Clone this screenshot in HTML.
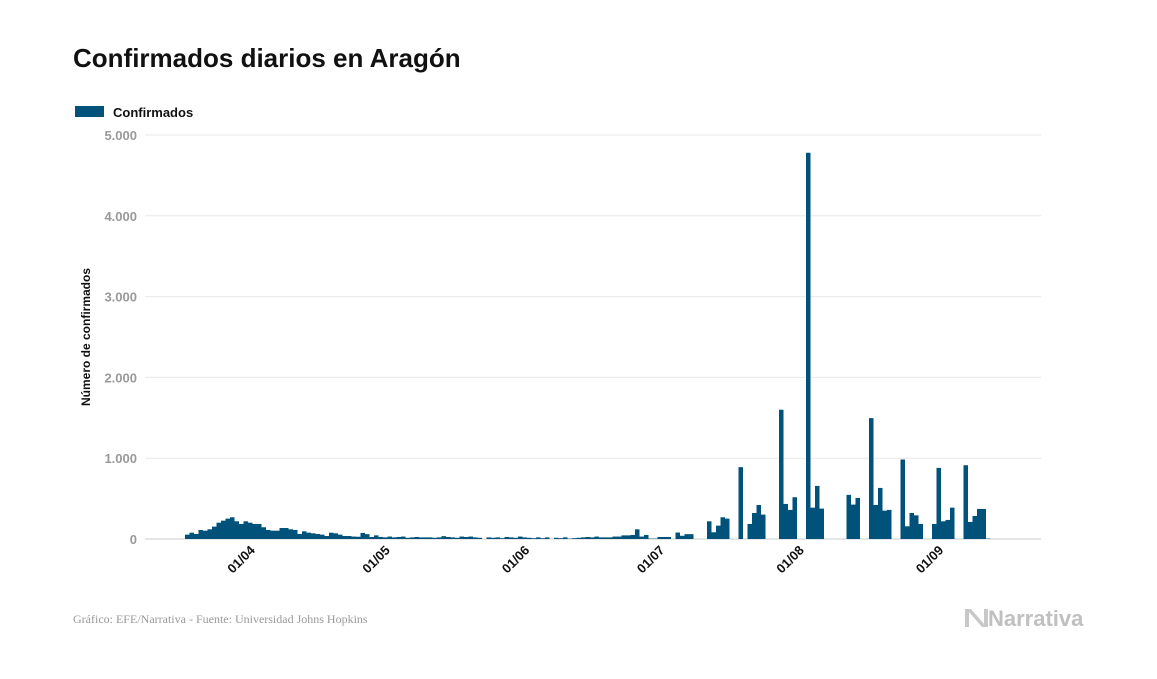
<!DOCTYPE html>
<html><head><meta charset="utf-8"><style>
body{margin:0;background:#fff;width:1157px;height:674px;overflow:hidden;font-family:"Liberation Sans",sans-serif}
</style></head><body>
<svg width="1157" height="674">
<text x="73" y="67" font-size="26" font-weight="bold" fill="#111">Confirmados diarios en Aragón</text>
<rect x="75" y="106" width="29" height="11" fill="#00527a"/>
<text x="113" y="117" font-size="13" font-weight="bold" fill="#111">Confirmados</text>
<g id="grid"></g><g id="bars"></g><g id="xt"></g>
<text transform="translate(90,337) rotate(-90)" text-anchor="middle" font-size="12" font-weight="bold" fill="#111">Número de confirmados</text>
<text x="73" y="623" font-family="Liberation Serif,serif" font-size="12" fill="#999">Gráfico: EFE/Narrativa - Fuente: Universidad Johns Hopkins</text>
<g>
<path d="M965 609 L971 609 L984 624 L984 609 L988 609 L988 627 L982 627 L969 612 L969 627 L965 627Z" fill="#c8c8c8"/>
<text x="988" y="626" font-size="22" font-weight="bold" fill="#c0c0c0">Narrativa</text>
</g>
</svg>
<script>
const values=[54,78,62,112,103,120,153,202,227,252,269,219,186,219,202,186,186,145,112,103,103,136,136,120,112,62,95,78,70,62,54,37,78,70,54,37,
37,30,28,75,60,25,45,25,20,30,
20,25,30,15,20,25,20,20,20,15,20,35,25,20,15,
30,25,30,20,15,0,20,15,20,10,25,20,15,30,20,
15,10,20,10,20,0,15,10,20,5,10,15,20,25,20,30,
20,20,20,30,30,45,45,50,120,30,50,5,5,25,25,25,0,80,40,60,60,0,0,0,
219,83,165,269,252,0,0,889,0,186,322,421,302,0,0,0,1600,434,360,517,0,0,4780,388,657,376,0,0,0,0,0,546,426,508,0,0,1496,421,632,351,360,0,0,984,157,322,293,186,0,0,186,880,219,236,388,0,0,913,211,285,372,372,5];
const tickIdx=[13,43,74,104,135,166];
const tickLabels=["01/04","01/05","01/06","01/07","01/08","01/09"];
const yTicks=[0,1000,2000,3000,4000,5000];
const yLabels=["0","1.000","2.000","3.000","4.000","5.000"];
const NS="http://www.w3.org/2000/svg";
const x0=185,step=4.5,yb=539,yt=135,ymax=5000;
const X=i=>x0+i*step, Y=v=>yb-(v/ymax)*(yb-yt);
const grid=document.getElementById('grid'),bars=document.getElementById('bars'),xt=document.getElementById('xt');
yTicks.forEach((t,k)=>{
 const l=document.createElementNS(NS,'line');
 l.setAttribute('x1',145);l.setAttribute('x2',1041);l.setAttribute('y1',Y(t));l.setAttribute('y2',Y(t));
 l.setAttribute('stroke',t===0?'#ccc':'#e8e8e8');
 
 
 grid.appendChild(l);
 const tx=document.createElementNS(NS,'text');
 tx.setAttribute('x',137);tx.setAttribute('y',Y(t)+5);tx.setAttribute('text-anchor','end');
 tx.setAttribute('font-size','13');tx.setAttribute('font-weight','bold');tx.setAttribute('fill','#999');
 tx.textContent=yLabels[k];
 
 
 grid.appendChild(tx);
});
values.forEach((v,i)=>{
 if(v<=0)return;
 const r=document.createElementNS(NS,'rect');
 r.setAttribute('x',X(i));r.setAttribute('width',step);
 r.setAttribute('y',Y(v));r.setAttribute('height',yb-Y(v));r.setAttribute('fill','#00527a');
 
 
 bars.appendChild(r);
});
tickIdx.forEach((d,k)=>{
 const cx=X(d)+step/2;
 const tx=document.createElementNS(NS,'text');
 tx.setAttribute('transform','translate('+(cx+10)+',551) rotate(-45)');
 tx.setAttribute('text-anchor','end');tx.setAttribute('font-size','13');tx.setAttribute('font-weight','bold');tx.setAttribute('fill','#111');
 tx.textContent=tickLabels[k];
 
 
 xt.appendChild(tx);
});
</script>
</body></html>
